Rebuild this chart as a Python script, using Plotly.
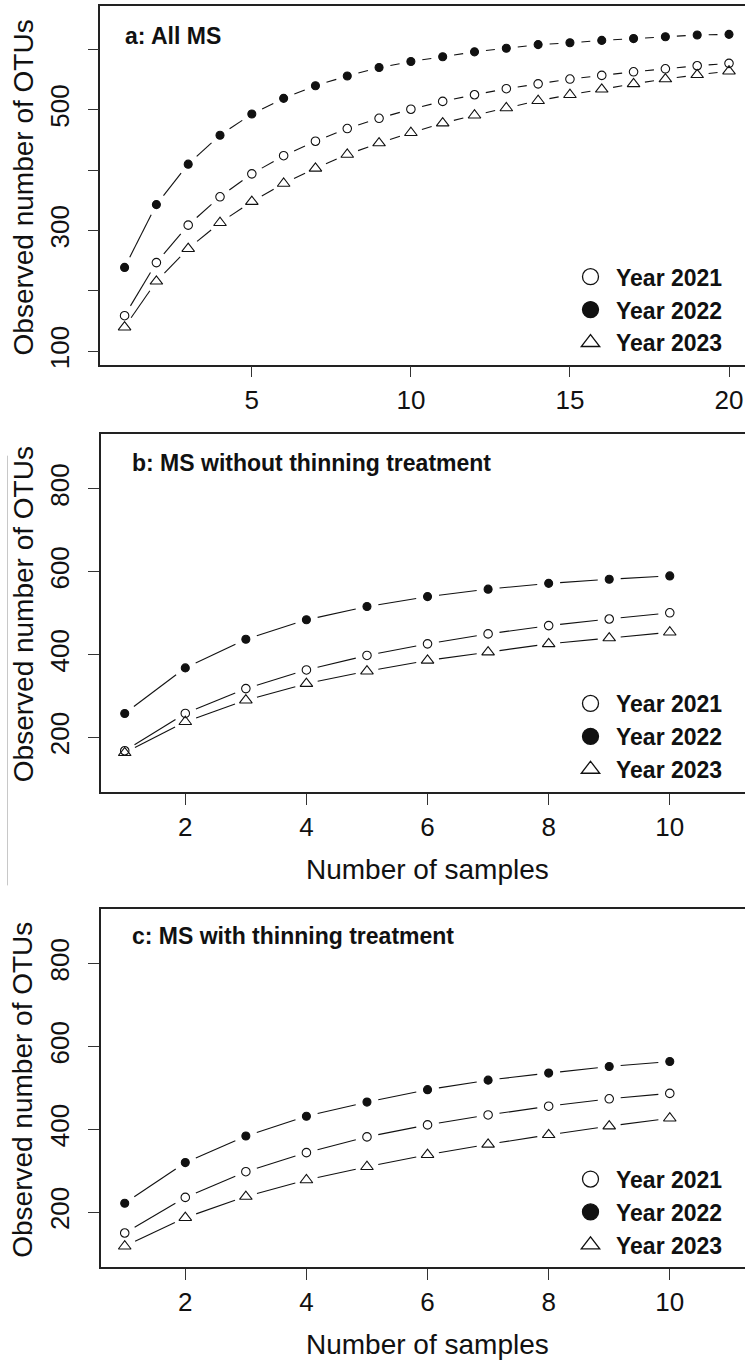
import math
import plotly.graph_objects as go

# ---------------- data ----------------
years = ["Year 2021", "Year 2022", "Year 2023"]

a_x = list(range(1, 21))
a_2021 = [159, 247, 309, 356, 394, 424, 448, 469, 486, 501, 514, 525, 535, 543, 551, 557, 563, 568, 573, 577]
a_2022 = [239, 343, 410, 458, 493, 519, 540, 556, 570, 580, 588, 596, 602, 608, 611, 615, 618, 621, 624, 625]
a_2023 = [140, 216, 270, 313, 348, 378, 403, 426, 445, 462, 478, 491, 503, 515, 525, 534, 543, 551, 558, 564]

b_x = list(range(1, 11))
b_2021 = [168, 258, 318, 363, 398, 426, 450, 470, 486, 501]
b_2022 = [258, 368, 437, 484, 516, 540, 558, 572, 582, 590]
b_2023 = [163, 238, 290, 330, 360, 386, 406, 426, 440, 454]

c_x = list(range(1, 11))
c_2021 = [150, 236, 298, 344, 382, 411, 435, 456, 474, 487]
c_2022 = [222, 320, 384, 432, 466, 496, 519, 536, 552, 564]
c_2023 = [118, 187, 238, 278, 310, 339, 364, 387, 408, 427]

titles = ["a: All MS", "b: MS without thinning treatment", "c: MS with thinning treatment"]
a_yticks = [100, 200, 300, 400, 500, 600]
a_yticktext = ["100", "", "300", "", "500", ""]
bc_yticks = [200, 400, 600, 800]
a_xticks = [5, 10, 15, 20]
bc_xticks = [2, 4, 6, 8, 10]

# ---------------- layout geometry ----------------
W, H = 745, 1365
FONT = "Liberation Sans, Arial, Helvetica, sans-serif"
INK = "#111111"

panels = [
    dict(x=a_x, ys=[a_2021, a_2022, a_2023], xr=[0.24, 20.503], yr=[78, 672],
         xl=100.4, top=6.0, bot=365.7, xt=a_xticks, yt=a_yticks, ytt=a_yticktext,
         tx=123, ty=36, leg_y=256, ylab_y=188, xlab=None),
    dict(x=b_x, ys=[b_2021, b_2022, b_2023], xr=[0.6, 11.242], yr=[68, 932],
         xl=100.5, top=435.5, bot=794.5, xt=bc_xticks, yt=bc_yticks, ytt=None,
         tx=130, ty=464, leg_y=684, ylab_y=616, xlab=871.7),
    dict(x=c_x, ys=[c_2021, c_2022, c_2023], xr=[0.6, 11.242], yr=[68, 932],
         xl=100.5, top=911.7, bot=1270.7, xt=bc_xticks, yt=bc_yticks, ytt=None,
         tx=130, ty=939, leg_y=1161, ylab_y=1093, xlab=1348),
]

symbols = ["circle-open", "circle", "triangle-up-open"]
msizes = [8.5, 8, 11]
GAP = 11.5


def gapped(xs, ys, xr, yr, wpx, hpx, gap=GAP):
    kx = wpx / (xr[1] - xr[0])
    ky = hpx / (yr[1] - yr[0])
    X, Y = [], []
    for i in range(len(xs) - 1):
        dx = xs[i + 1] - xs[i]
        dy = ys[i + 1] - ys[i]
        L = math.hypot(dx * kx, dy * ky)
        if L <= 2 * gap:
            continue
        f = gap / L
        X += [xs[i] + f * dx, xs[i + 1] - f * dx, None]
        Y += [ys[i] + f * dy, ys[i + 1] - f * dy, None]
    return X, Y


fig = go.Figure()
layout = dict(width=W, height=H, margin=dict(l=0, r=0, t=0, b=0), autosize=False,
              paper_bgcolor="white", plot_bgcolor="white", showlegend=True,
              font=dict(family=FONT, color=INK))
annotations = []

for p_i, p in enumerate(panels):
    n = "" if p_i == 0 else str(p_i + 1)
    xa, ya = "x" + n, "y" + n
    legname = "legend" + n
    dom_x = [p["xl"] / W, 1.0]
    dom_y = [1 - p["bot"] / H, 1 - p["top"] / H]
    wpx = (dom_x[1] - dom_x[0]) * W
    hpx = (dom_y[1] - dom_y[0]) * H

    for s_i, ys in enumerate(p["ys"]):
        lx, ly = gapped(p["x"], ys, p["xr"], p["yr"], wpx, hpx)
        fig.add_trace(go.Scatter(x=lx, y=ly, mode="lines", xaxis=xa, yaxis=ya,
                                 line=dict(color=INK, width=1.1), showlegend=False,
                                 hoverinfo="skip"))
    for s_i, ys in enumerate(p["ys"]):
        fig.add_trace(go.Scatter(x=p["x"], y=ys, mode="markers", xaxis=xa, yaxis=ya,
                                 name=years[s_i], showlegend=False,
                                 marker=dict(symbol=symbols[s_i], size=msizes[s_i], color=INK,
                                             line=dict(color=INK, width=1.1))))
    for s_i in range(3):
        fig.add_trace(go.Scatter(x=[None], y=[None], mode="markers", xaxis=xa, yaxis=ya,
                                 name=years[s_i], showlegend=True, legend=legname,
                                 marker=dict(symbol=symbols[s_i], size=16, color=INK,
                                             line=dict(color=INK, width=1.3))))

    axis_common = dict(showgrid=False, zeroline=False, showline=True, linecolor="#222222",
                       linewidth=1.5, ticks="outside", ticklen=11, tickwidth=1,
                       tickcolor="#333333", tickfont=dict(family=FONT, size=26, color=INK))
    layout["xaxis" + n] = dict(axis_common, domain=dom_x, range=p["xr"], tickvals=p["xt"],
                               mirror=True, anchor=ya, ticklabelstandoff=0)
    yd = dict(axis_common, domain=dom_y, range=p["yr"], tickvals=p["yt"], anchor=xa,
              tickangle=-90, ticklabelstandoff=8)
    if p["ytt"] is not None:
        yd["ticktext"] = p["ytt"]
    layout["yaxis" + n] = yd

    layout[legname] = dict(x=565 / W, xanchor="left", y=1 - p["leg_y"] / H, yanchor="top",
                           xref="paper", yref="paper", bgcolor="rgba(0,0,0,0)", borderwidth=0,
                           font=dict(family=FONT, size=23, color=INK, weight="bold"),
                           itemsizing="trace", itemwidth=41)

    annotations.append(dict(text=titles[p_i], x=p["tx"] / W, y=1 - p["ty"] / H,
                            xref="paper", yref="paper", xanchor="left", yanchor="middle",
                            showarrow=False,
                            font=dict(family=FONT, size=23, color=INK, weight="bold")))
    annotations.append(dict(text="Observed number of OTUs", x=23 / W, y=1 - p["ylab_y"] / H,
                            xref="paper", yref="paper", xanchor="center", yanchor="middle",
                            textangle=-90, showarrow=False,
                            font=dict(family=FONT, size=28, color=INK)))
    if p["xlab"] is not None:
        annotations.append(dict(text="Number of samples", x=427 / W, y=1 - p["xlab"] / H,
                                xref="paper", yref="paper", xanchor="center", yanchor="middle",
                                showarrow=False, font=dict(family=FONT, size=28, color=INK)))

layout["annotations"] = annotations
layout["shapes"] = [dict(type="line", xref="paper", yref="paper", x0=7.5 / W, x1=7.5 / W,
                         y0=1 - 457 / H, y1=1 - 888 / H,
                         line=dict(color="#c8c8c8", width=1))]
fig.update_layout(**layout)
fig.write_html("out.html")
